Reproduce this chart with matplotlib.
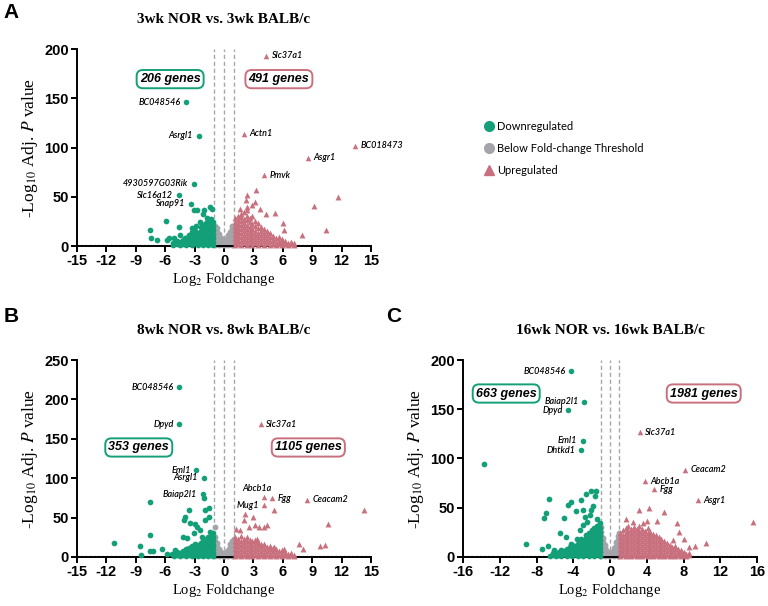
import numpy as np
import matplotlib
matplotlib.use("Agg")
import matplotlib.pyplot as plt
from matplotlib.lines import Line2D

plt.rcParams['axes.unicode_minus'] = False
plt.rcParams['mathtext.fontset'] = 'stix'

GREEN = '#13a079'
PINK = '#c9707f'
GREY = '#a4a4aa'

# ---------------- panel A : 3wk ----------------
A_down_cols = [(-1.1, [1, 4, 8, 12, 16, 20, 24]), (-1.35, [2, 6, 10, 14, 18, 22, 27]),
               (-1.6, [1, 5, 9, 13, 17, 21, 25]), (-1.85, [3, 7, 11, 15, 19, 23]),
               (-2.1, [1, 5, 9, 13, 17, 21]), (-2.4, [3, 7, 11, 15, 19]),
               (-2.7, [1, 5, 9, 13]), (-3.0, [3, 7, 11, 15]), (-3.3, [1, 5, 9]),
               (-3.6, [3, 7, 11]), (-3.9, [1, 5, 8]), (-4.2, [2, 6]), (-4.5, [1, 4]),
               (-4.8, [2, 5]), (-5.2, [1, 3])]
A_down_pts = [(-7.6, 16.6), (-7.45, 7.8), (-6.8, 6.4), (-5.9, 25.8), (-5.8, 6.4), (-5.65, 7.8),
              (-5.1, 8.5), (-4.6, 19.3), (-4.45, 10.8), (-4.0, 8.5), (-3.1, 37), (-2.75, 37),
              (-3.3, 18.6), (-3.26, 14.6), (-2.0, 37), (-1.43, 39.7), (-1.19, 37.6),
              (-2.14, 33), (-1.73, 28.8), (-1.5, 26), (-2.9, 20), (-2.5, 24)]
A_grey_cols = [(-0.95, [1, 4, 8, 12, 16, 20]), (-0.75, [2, 6, 10, 14, 18]), (-0.55, [1, 5, 9, 12]),
               (-0.35, [2, 5, 8]), (-0.15, [1, 3]), (0.05, [1, 3]), (0.25, [2, 5, 7]),
               (0.45, [1, 4, 8, 11]), (0.65, [2, 6, 10, 14]), (0.85, [1, 5, 9, 13, 17, 20]),
               (1.0, [3, 7, 11, 15, 19])]
A_up_cols = [(1.1, [1, 4, 8, 12, 16, 20, 24, 28]), (1.4, [2, 6, 10, 14, 18, 22, 26, 31]),
             (1.7, [1, 5, 9, 13, 17, 21, 25, 29, 33]), (2.0, [3, 7, 11, 15, 19, 23, 27, 35]),
             (2.3, [1, 5, 9, 13, 17, 21, 26, 30, 40]), (2.6, [3, 7, 11, 15, 19, 24, 28]),
             (2.9, [1, 5, 9, 13, 17, 22, 30]), (3.2, [3, 7, 11, 15, 20, 25]),
             (3.5, [1, 5, 9, 13, 18, 23]), (3.8, [3, 7, 11, 15, 19]), (4.1, [1, 5, 9, 13, 17]),
             (4.4, [3, 7, 11, 15]), (4.7, [1, 5, 9, 13]), (5.0, [2, 6, 10]), (5.3, [1, 4, 8]),
             (5.6, [2, 5, 9]), (5.9, [1, 4, 7]), (6.2, [2, 5]), (6.5, [1, 3]), (6.8, [2, 4]),
             (7.1, [1, 3])]
A_up_pts = [(2.28, 46.4), (2.35, 51.5), (3.26, 57.3), (3.2, 45), (2.35, 37), (3.7, 38), (4.28, 33),
            (5.2, 33.5), (6.05, 23.4), (6.15, 16.6), (7.95, 11.2), (9.2, 41), (10.4, 15.9),
            (11.6, 49.5), (1.6, 38), (2.9, 42)]
A_down_lab = [('BC048546', -3.87, 146), ('Asrgl1', -2.58, 112), ('4930597G03Rik', -3.1, 63.4),
              ('Slc16a12', -4.6, 51.5), ('Snap91', -3.36, 43)]
A_up_lab = [('Slc37a1', 4.28, 193), ('Actn1', 2.0, 114), ('BC018473', 13.4, 102),
            ('Asgr1', 8.53, 89.8), ('Pmvk', 4.04, 71.9)]

# ---------------- panel B : 8wk ----------------
B_down_cols = [(-1.1, [1, 5, 10, 15, 20, 25, 30]), (-1.35, [3, 8, 13, 18, 23, 28]),
               (-1.6, [1, 5, 10, 15, 20, 25]), (-1.85, [3, 8, 13, 18, 23]),
               (-2.1, [1, 5, 10, 15, 20]), (-2.4, [3, 8, 13, 18]), (-2.7, [1, 5, 10, 15]),
               (-3.0, [3, 8, 13, 17]), (-3.3, [1, 5, 10, 14]), (-3.6, [3, 8, 12]),
               (-3.9, [1, 5, 10]), (-4.2, [3, 7]), (-4.5, [1, 5]), (-4.8, [2, 6]), (-5.1, [1, 4])]
B_down_pts = [(-11.2, 18.2), (-7.6, 70), (-7.6, 27.5), (-8.6, 14.4), (-8.5, 2), (-7.6, 7.6),
              (-7.27, 7.6), (-6.35, 10.6), (-5.8, 4.2), (-5.3, 4.2), (-4.96, 8.5), (-4.2, 25.4),
              (-3.77, 24), (-3.94, 50.8), (-3.6, 59), (-4.1, 47.5), (-3.43, 43), (-2.92, 42),
              (-2.75, 38), (-2.48, 34), (-2.24, 25), (-1.97, 46.6), (-1.56, 50.8), (-1.5, 62),
              (-1.9, 59), (-1.4, 32), (-3.1, 30), (-2.0, 75)]
B_grey_cols = [(-0.95, [1, 5, 10, 15, 20, 25, 38]), (-0.75, [3, 8, 13, 18]), (-0.55, [1, 5, 10]),
               (-0.35, [2, 6]), (-0.15, [1, 3]), (0.05, [1, 4]), (0.25, [2, 6]), (0.45, [1, 5, 9]),
               (0.65, [3, 8, 13, 17]), (0.85, [1, 5, 10, 15, 20]), (1.0, [3, 8, 13, 18, 23])]
B_up_cols = [(1.1, [1, 5, 10, 15, 20, 25]), (1.4, [3, 8, 13, 18, 23]), (1.7, [1, 5, 10, 15, 20, 26]),
             (2.0, [3, 8, 13, 18, 23]), (2.3, [1, 5, 10, 15, 20, 25]), (2.6, [3, 8, 13, 18, 22]),
             (2.9, [1, 5, 10, 15, 20]), (3.2, [3, 8, 13, 18, 22]), (3.5, [1, 5, 10, 15, 19]),
             (3.8, [3, 8, 13, 17]), (4.1, [1, 5, 10, 15]), (4.4, [3, 8, 13]), (4.7, [1, 5, 10, 14]),
             (5.0, [3, 8, 12]), (5.3, [1, 5, 10]), (5.6, [3, 7]), (5.9, [1, 5, 9]), (6.2, [3, 6]),
             (6.5, [1, 4]), (6.8, [2, 5]), (7.1, [1, 3])]
B_up_pts = [(1.22, 35), (1.66, 34), (2.0, 46.6), (2.17, 55), (2.5, 38), (3.0, 51), (3.2, 40),
            (3.53, 38), (4.04, 38), (4.38, 40), (3.36, 23), (4.04, 17), (5.06, 12.7), (6.1, 10.6),
            (7.6, 16), (8.1, 10.6), (9.8, 13.5), (10.3, 14.8), (5.06, 59.3), (10.6, 42),
            (14.3, 60.2)]
B_down_lab = [('BC048546', -4.55, 215.7), ('Dpyd', -4.55, 168.6), ('Eml1', -2.85, 110),
              ('Asrgl1', -2.07, 100.4), ('Baiap2l1', -2.17, 79.7)]
B_up_lab = [('Slc37a1', 3.74, 168.6), ('Fgg', 4.9, 74.6), ('Ceacam2', 8.46, 72.9)]
B_abcb1a = (4.1, 76)
B_mug1 = (4.05, 65.7)

# ---------------- panel C : 16wk ----------------
C_down_cols = [(-1.1, [1, 5, 9, 13, 17, 21, 25, 29, 34]), (-1.4, [3, 7, 11, 15, 19, 23, 27, 31]),
               (-1.7, [1, 5, 9, 13, 17, 21, 25, 29]), (-2.0, [3, 7, 11, 15, 19, 23, 27]),
               (-2.3, [1, 5, 9, 13, 17, 21, 24]), (-2.6, [3, 7, 11, 15, 19, 22]),
               (-2.9, [1, 5, 9, 13, 17]), (-3.2, [3, 7, 11, 15, 18]), (-3.5, [1, 5, 9, 13]),
               (-3.8, [3, 7, 11]), (-4.1, [1, 5, 9, 12]), (-4.4, [3, 7, 10]), (-4.7, [1, 5, 8]),
               (-5.0, [3, 6]), (-5.3, [1, 4, 7]), (-5.6, [2, 5]), (-5.9, [1, 3]), (-6.2, [2, 4]),
               (-6.5, [1])]
C_down_pts = [(-9.1, 13.6), (-6.6, 58.6), (-6.97, 45), (-7.2, 39.3), (-7.4, 8.5), (-6.8, 10.8),
              (-5.0, 39.3), (-5.4, 24.7), (-4.55, 52.5), (-4.3, 56.3), (-3.68, 46.4), (-3.2, 57.6),
              (-2.95, 48), (-2.6, 63.7), (-2.05, 67), (-1.54, 67), (-1.65, 61.7), (-2.05, 47.5),
              (-1.83, 52), (-2.7, 40.7), (-2.48, 35.6), (-3.24, 27), (-2.95, 32), (-3.64, 18.6),
              (-4.3, 13.6), (-4.8, 20.3), (-2.2, 42.4), (-1.4, 39), (-1.2, 27), (-6.1, 6.8),
              (-13.7, 94.6)]
C_grey_cols = [(-0.95, [1, 5, 9, 13, 17, 21, 25, 30]), (-0.75, [3, 7, 11, 15, 19]),
               (-0.55, [1, 5, 9, 12]), (-0.35, [2, 6]), (-0.15, [1, 3]), (0.05, [1, 3]),
               (0.25, [2, 5]), (0.45, [1, 5, 9]), (0.65, [3, 7, 11, 15]),
               (0.85, [1, 5, 9, 13, 17, 21]), (1.0, [3, 7, 11, 15, 19, 24])]
C_up_cols = [(1.1, [1, 4, 8, 12, 16, 20, 24]), (1.4, [2, 6, 10, 14, 18, 22, 27]),
             (1.7, [1, 4, 8, 12, 16, 20, 24, 29]), (2.0, [2, 6, 10, 14, 18, 22, 26, 31]),
             (2.3, [1, 4, 8, 12, 16, 20, 24, 28]), (2.6, [2, 6, 10, 14, 18, 22, 26, 30]),
             (2.9, [1, 4, 8, 12, 16, 20, 24, 28]), (3.2, [2, 6, 10, 14, 18, 22, 26, 31]),
             (3.5, [1, 4, 8, 12, 16, 20, 24, 28]), (3.8, [2, 6, 10, 14, 18, 22, 26]),
             (4.1, [1, 4, 8, 12, 16, 20, 24, 29]), (4.4, [2, 6, 10, 14, 18, 22, 25]),
             (4.7, [1, 4, 8, 12, 16, 20, 23]), (5.0, [2, 6, 10, 14, 18, 22]),
             (5.3, [1, 4, 8, 12, 16, 20]), (5.6, [2, 6, 10, 14, 18]), (5.9, [1, 4, 8, 12, 16]),
             (6.2, [2, 6, 10, 14]), (6.5, [1, 4, 8, 12]), (6.8, [2, 6, 10]), (7.1, [1, 4, 8, 11]),
             (7.4, [2, 5, 8]), (7.7, [1, 4, 7]), (8.0, [2, 5]), (8.3, [1, 3]), (8.6, [2, 4])]
C_up_pts = [(1.75, 39), (3.13, 47.5), (4.2, 50), (5.85, 45.4), (5.1, 37), (7.3, 34), (7.5, 25),
            (8.0, 18.6), (8.6, 10), (9.2, 10.8), (10.4, 14.2), (6.9, 16.9), (4.0, 37),
            (15.6, 35.6), (2.5, 36), (3.6, 34)]
C_down_lab = [('BC048546', -4.26, 188.8), ('Baiap2l1', -2.81, 157.6), ('Dpyd', -4.55, 149),
              ('Eml1', -2.95, 118), ('Dhtkd1', -3.2, 108.5)]
C_up_lab = [('Slc37a1', 3.24, 126.8), ('Ceacam2', 8.2, 88.8), ('Abcb1a', 3.78, 77),
            ('Fgg', 4.76, 68.8), ('Asgr1', 9.55, 57.6)]

GENE_FONT = dict(fontsize=6.5, style='italic', family='Lato', weight='semibold')


def expand(cols, pts=()):
    xs, ys = [], []
    for x, yl in cols:
        xs += [x] * len(yl)
        ys += yl
    for x, y in pts:
        xs.append(x)
        ys.append(y)
    return xs, ys


def volcano(ax, title, down, grey, up, xlim, xticks, ylim, yticks, down_lab, up_lab,
            n_down, n_up, box_y, box_x):
    ax.axhline(1.3, color='#9a9a9a', lw=1, ls=(0, (1, 2)), zorder=1)
    for xv in (-1, 0, 1):
        ax.plot([xv, xv], [0, ylim[1]], color='#a8a8a8', lw=1, ls=(0, (3, 2)), zorder=1)
    ax.scatter(*grey, s=18, color=GREY, marker='o', lw=0, clip_on=False, zorder=2)
    ax.scatter(*down, s=17, color=GREEN, marker='o', lw=0, clip_on=False, zorder=3)
    ax.scatter(*up, s=18, color=PINK, marker='^', lw=0, clip_on=False, zorder=3)
    for name, x, y in down_lab:
        ax.scatter([x], [y], s=16, color=GREEN, lw=0, zorder=3)
        ax.annotate(name, (x, y), xytext=(-4, 0), textcoords='offset points', ha='right',
                    va='center', **GENE_FONT)
    for name, x, y in up_lab:
        ax.scatter([x], [y], s=16, color=PINK, marker='^', lw=0, zorder=3)
        ax.annotate(name, (x, y), xytext=(4, 0), textcoords='offset points', ha='left',
                    va='center', annotation_clip=False, **GENE_FONT)
    ax.set_xlim(*xlim)
    ax.set_ylim(*ylim)
    ax.set_xticks(xticks)
    ax.set_yticks(yticks)
    for side in ('top', 'right'):
        ax.spines[side].set_visible(False)
    for side in ('left', 'bottom'):
        ax.spines[side].set_linewidth(1.4)
    ax.tick_params(width=1.4, length=4, labelsize=10.5, pad=2)
    for lab in ax.get_xticklabels() + ax.get_yticklabels():
        lab.set_fontweight('bold')
        lab.set_family('Liberation Sans')
    ax.set_xlabel('Log$_2$ Foldchange', family='Liberation Serif', fontsize=10.5, labelpad=2)
    ax.set_ylabel('-Log$_{10}$ Adj. $P$ value', family='Liberation Serif', fontsize=12.5, labelpad=3)
    ax.text(0.5, 1.15, title, transform=ax.transAxes, ha='center', va='center',
            family='Liberation Serif', weight='bold', fontsize=11)
    bb = dict(boxstyle='round,pad=0.25,rounding_size=0.5', fc='white', lw=1.4)
    ax.text(box_x[0], box_y, f'{n_down} genes', ha='center', va='center', fontsize=9,
            style='italic', weight='bold', family='Liberation Sans', bbox=dict(bb, ec=GREEN))
    ax.text(box_x[1], box_y, f'{n_up} genes', ha='center', va='center', fontsize=9,
            style='italic', weight='bold', family='Liberation Sans', bbox=dict(bb, ec=PINK))


fig = plt.figure(figsize=(7.68, 6.06), dpi=100)
axA = fig.add_axes([0.1003, 0.594, 0.3828, 0.325])
axB = fig.add_axes([0.1003, 0.0809, 0.3828, 0.325])
axC = fig.add_axes([0.6029, 0.0809, 0.3828, 0.325])

volcano(axA, '3wk NOR vs. 3wk BALB/c', expand(A_down_cols, A_down_pts), expand(A_grey_cols),
        expand(A_up_cols, A_up_pts), (-15, 15), range(-15, 16, 3), (0, 200), range(0, 201, 50),
        A_down_lab, A_up_lab, 206, 491, 169.5, (-5.5, 5.6))
volcano(axB, '8wk NOR vs. 8wk BALB/c', expand(B_down_cols, B_down_pts), expand(B_grey_cols),
        expand(B_up_cols, B_up_pts), (-15, 15), range(-15, 16, 3), (0, 250), range(0, 251, 50),
        B_down_lab, B_up_lab, 353, 1105, 139, (-8.7, 8.6))
axB.scatter(*zip(B_abcb1a, B_mug1), s=16, color=PINK, marker='^', lw=0, zorder=3)
axB.annotate('Abcb1a', B_abcb1a, xytext=(-5, 6), textcoords='offset points', ha='center',
             va='center', **GENE_FONT)
axB.annotate('Mug1', B_mug1, xytext=(-3, 0), textcoords='offset points', ha='right',
             va='center', **GENE_FONT)
volcano(axC, '16wk NOR vs. 16wk BALB/c', expand(C_down_cols, C_down_pts), expand(C_grey_cols),
        expand(C_up_cols, C_up_pts), (-16, 16), range(-16, 17, 4), (0, 200), range(0, 201, 50),
        C_down_lab, C_up_lab, 663, 1981, 166, (-11.3, 10.2))

for letter, px, py in (('A', 11, 13), ('B', 11, 316), ('C', 394, 316)):
    fig.text(px / 768, 1 - py / 606, letter, ha='center', va='center',
             family='Liberation Sans', weight='bold', fontsize=15)

handles = [Line2D([], [], ls='', marker='o', ms=7, color=GREEN),
           Line2D([], [], ls='', marker='o', ms=7, color=GREY),
           Line2D([], [], ls='', marker='^', ms=7, color=PINK)]
fig.legend(handles, ['Downregulated', 'Below Fold-change Threshold', 'Upregulated'],
           loc='upper left', bbox_to_anchor=(0.615, 0.817), frameon=False, handletextpad=0.1,
           handlelength=1.2, labelspacing=1.0, prop={'family': 'Lato', 'size': 8})

fig.savefig('out.png', dpi=100)
